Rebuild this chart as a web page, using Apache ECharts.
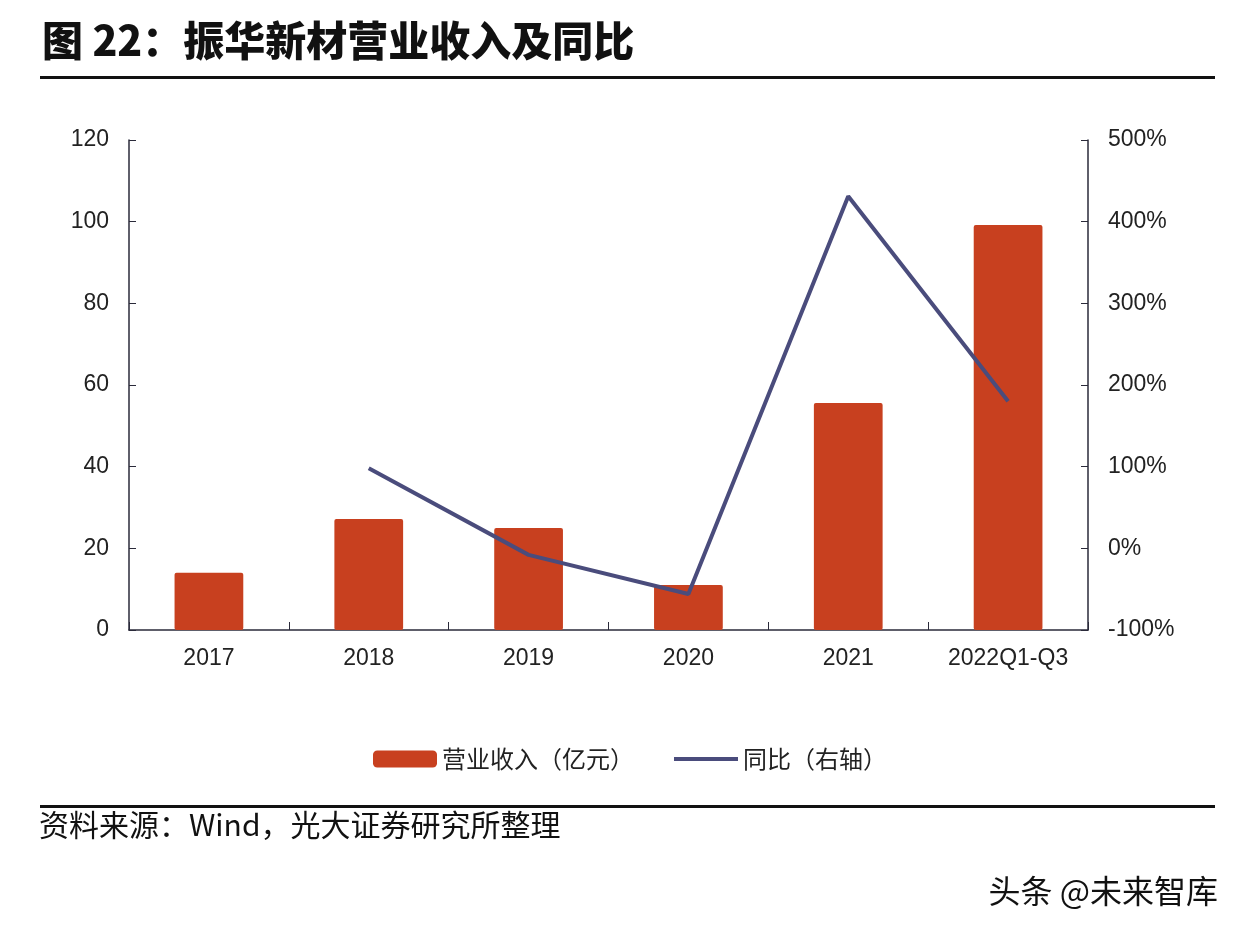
<!DOCTYPE html>
<html>
<head>
<meta charset="utf-8">
<script src="https://cdn.jsdelivr.net/npm/echarts@6/dist/echarts.min.js"></script>
<style>
  html, body { margin: 0; padding: 0; background: #fff; }
  #chart { width: 1244px; height: 940px; }
</style>
</head>
<body>
<div id="chart"></div>
<script>
const categories = ['2017', '2018', '2019', '2020', '2021', '2022Q1-Q3']
const revenue = [14, 27.2, 25, 11, 55.6, 99.2]
const yoy = [null, 98, -8, -56, 431, 180]
const leftTicks = [0, 120, 20]
const rightTicks = [-100, 500, 100]

const numFont = '"Liberation Sans", Arial, sans-serif'
const cjkFont = '"Noto Sans CJK SC", sans-serif'
const axisColor = '#2a2a3a'
const lineColor = '#4A4C7C'

const chart = echarts.init(document.getElementById('chart'))
chart.setOption({
  backgroundColor: '#fff',
  animation: false,
  title: {
    text: '图 22：振华新材营业收入及同比',
    left: 37,
    top: 15,
    textStyle: {
      fontFamily: cjkFont,
      fontSize: 41,
      fontWeight: 900,
      color: '#111'
    }
  },
  graphic: [
    { type: 'rect', shape: { x: 40, y: 76, width: 1175, height: 3 }, style: { fill: '#111' } },
    { type: 'rect', shape: { x: 40, y: 805, width: 1175, height: 3 }, style: { fill: '#111' } },
    {
      type: 'text', left: 39, top: 810,
      style: { text: '资料来源：Wind，光大证券研究所整理', font: '30px "Noto Sans CJK SC", sans-serif', fill: '#111' }
    },
    {
      type: 'text', right: 26, top: 875,
      style: { text: '头条 @未来智库', font: '32px "Noto Sans CJK SC", sans-serif', fill: '#111' }
    }
  ],
  legend: {
    left: 368,
    top: 742,
    itemWidth: 64,
    itemHeight: 17,
    itemGap: 38,
    textStyle: { fontFamily: cjkFont, fontSize: 24, color: '#222' },
    data: [
      { name: '营业收入（亿元）', icon: 'roundRect' },
      { name: '同比（右轴）', itemStyle: { opacity: 0 }, lineStyle: { width: 4, color: lineColor } }
    ]
  },
  grid: { left: 129, right: 156, top: 140, bottom: 310 },
  xAxis: {
    type: 'category',
    data: categories,
    axisLine: { lineStyle: { color: axisColor, width: 1.5 } },
    axisTick: { show: true, inside: true, length: 8, lineStyle: { color: axisColor } },
    axisLabel: { fontFamily: numFont, fontSize: 23, color: '#222', margin: 17 }
  },
  yAxis: [
    {
      type: 'value',
      min: leftTicks[0], max: leftTicks[1], interval: leftTicks[2],
      axisLine: { show: true, lineStyle: { color: axisColor, width: 1.5 } },
      axisTick: { show: true, inside: true, length: 7, lineStyle: { color: axisColor } },
      axisLabel: { fontFamily: numFont, fontSize: 23, color: '#222', margin: 20 },
      splitLine: { show: false }
    },
    {
      type: 'value',
      min: rightTicks[0], max: rightTicks[1], interval: rightTicks[2],
      axisLine: { show: true, lineStyle: { color: axisColor, width: 1.5 } },
      axisTick: { show: true, inside: true, length: 7, lineStyle: { color: axisColor } },
      axisLabel: { fontFamily: numFont, fontSize: 23, color: '#222', margin: 20, formatter: '{value}%' },
      splitLine: { show: false }
    }
  ],
  series: [
    {
      name: '营业收入（亿元）',
      type: 'bar',
      data: revenue,
      barWidth: '43%',
      itemStyle: { color: '#C8401F', borderRadius: 2 }
    },
    {
      name: '同比（右轴）',
      type: 'line',
      yAxisIndex: 1,
      data: yoy,
      symbol: 'none',
      lineStyle: { color: lineColor, width: 4 },
      itemStyle: { color: lineColor }
    }
  ]
})
</script>
</body>
</html>
